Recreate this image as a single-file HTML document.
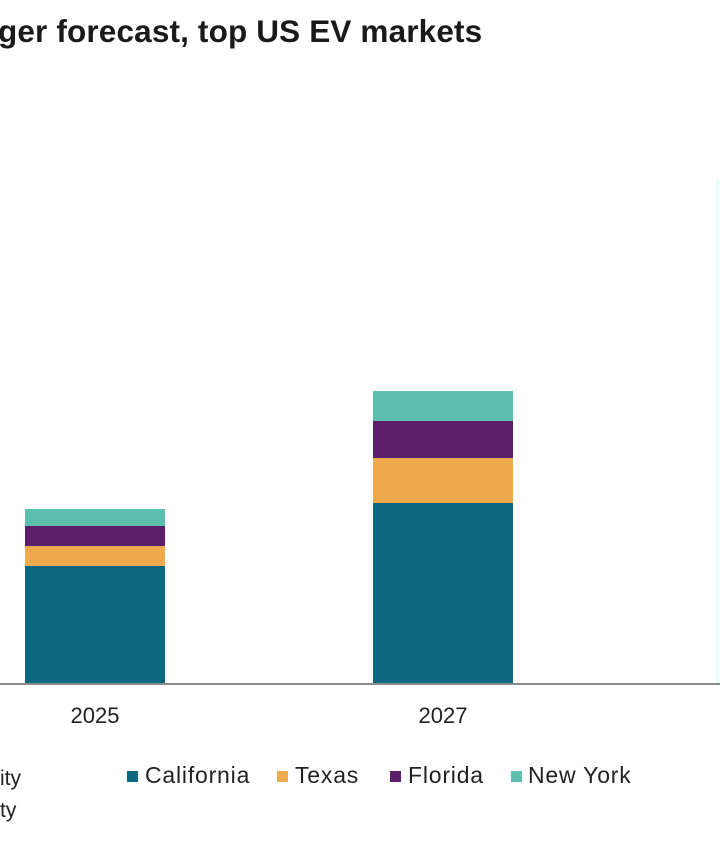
<!DOCTYPE html>
<html><head><style>
body{margin:0;width:720px;height:845px;background:#fff;position:relative;overflow:hidden;font-family:"Liberation Sans",Arial,sans-serif;color:#222}
.a{position:absolute}
.sq{position:absolute;width:11px;height:11px}
.lg{position:absolute;top:762px;font-size:23px;letter-spacing:0.8px}
</style></head><body>
<div class="a" style="left:-2px;top:13px;font-size:31.5px;font-weight:bold;color:#1a1a1a;white-space:nowrap;letter-spacing:0.15px">ger forecast, top US EV markets</div>

<div class="a" style="left:25px;top:509px;width:140px;height:17px;background:#5cbfad"></div>
<div class="a" style="left:25px;top:526px;width:140px;height:20px;background:#5c1f6b"></div>
<div class="a" style="left:25px;top:546px;width:140px;height:20px;background:#efa94f"></div>
<div class="a" style="left:25px;top:566px;width:140px;height:117px;background:#0b6880"></div>

<div class="a" style="left:373px;top:391px;width:140px;height:30px;background:#5cbfad"></div>
<div class="a" style="left:373px;top:421px;width:140px;height:37px;background:#5c1f6b"></div>
<div class="a" style="left:373px;top:458px;width:140px;height:45px;background:#efa94f"></div>
<div class="a" style="left:373px;top:503px;width:140px;height:180px;background:#0b6880"></div>

<div class="a" style="left:716px;top:180px;width:3px;height:503px;background:#eafcfc"></div>
<div class="a" style="left:0;top:683px;width:720px;height:2px;background:#8c8c8c"></div>

<div class="a" style="left:55px;top:703px;width:80px;text-align:center;font-size:22px">2025</div>
<div class="a" style="left:403px;top:703px;width:80px;text-align:center;font-size:22px">2027</div>

<div class="a" style="left:0;top:767px;font-size:21px">ity</div>
<div class="a" style="left:0;top:799px;font-size:21px">ty</div>

<div class="sq" style="left:127px;top:771px;background:#0b6880"></div>
<div class="lg" style="left:145px">California</div>
<div class="sq" style="left:277px;top:771px;background:#efa94f"></div>
<div class="lg" style="left:295px">Texas</div>
<div class="sq" style="left:390px;top:771px;background:#5c1f6b"></div>
<div class="lg" style="left:408px">Florida</div>
<div class="sq" style="left:511px;top:771px;background:#5cbfad"></div>
<div class="lg" style="left:528px">New York</div>
</body></html>
